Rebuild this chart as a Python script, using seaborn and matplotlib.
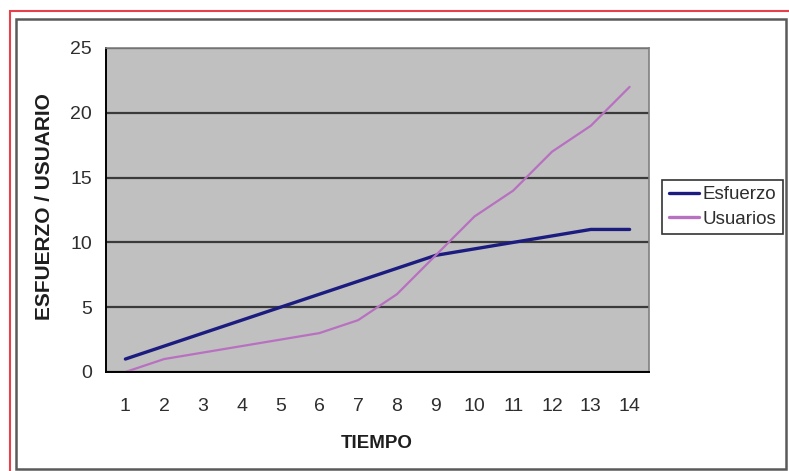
import pandas as pd
import seaborn as sns
import matplotlib.pyplot as plt
from matplotlib.patches import Rectangle

tiempo = list(range(1, 15))
esfuerzo = [1, 2, 3, 4, 5, 6, 7, 8, 9, 9.5, 10, 10.5, 11, 11]
usuarios = [0, 1, 1.5, 2, 2.5, 3, 4, 6, 9, 12, 14, 17, 19, 22]

df = pd.DataFrame({"TIEMPO": tiempo, "Esfuerzo": esfuerzo, "Usuarios": usuarios})
df = df.melt(id_vars="TIEMPO", var_name="serie", value_name="valor")

sns.set_style("white")
plt.rcParams['font.family'] = ['Liberation Sans', 'DejaVu Sans']

W, H = 789, 471
fig = plt.figure(figsize=(W / 100, H / 100), dpi=100)

# outer frames (red screenshot border + grey chart border)
fig.patches.append(Rectangle((10 / W, -0.1), 1.2, 1 - 11 / H + 0.1, transform=fig.transFigure,
                             fill=False, edgecolor="#e8404a", linewidth=1.5))
fig.patches.append(Rectangle((16 / W, 2 / H), 770 / W, 450 / H, transform=fig.transFigure,
                             fill=False, edgecolor="#5a5a5a", linewidth=1.8))

ax = fig.add_axes([106 / W, 1 - 372 / H, 543 / W, 324 / H])
ax.set_facecolor("#c0c0c0")

sns.lineplot(data=df, x="TIEMPO", y="valor", hue="serie", ax=ax,
             palette={"Esfuerzo": "#1c1c80", "Usuarios": "#b870c0"}, legend=False)
ax.lines[0].set_linewidth(2.4)
ax.lines[1].set_linewidth(1.6)

ax.set_xlim(0.5, 14.5)
ax.set_ylim(0, 25)
ax.set_yticks([0, 5, 10, 15, 20, 25])
ax.set_xticks(tiempo)
ax.set_xticks([i + 0.5 for i in range(0, 15)], minor=True)
ax.tick_params(axis="x", which="major", length=0, labelsize=14, pad=19, colors="#2e2e2e")
ax.tick_params(axis="x", which="minor", length=6, width=1.2, color="black", direction="out")
ax.tick_params(axis="y", which="major", length=6, width=1.2, color="black", direction="out",
               labelsize=14, labelcolor="#2e2e2e", pad=4)
ax.set_axisbelow(True)
ax.yaxis.grid(True, color="#3a3a3a", linewidth=1.6)
ax.xaxis.grid(False)

for s in ["top", "right"]:
    ax.spines[s].set_color("#808080")
    ax.spines[s].set_linewidth(1.2)
for s in ["left", "bottom"]:
    ax.spines[s].set_color("black")
    ax.spines[s].set_linewidth(1.4)

ax.set_xlabel("TIEMPO", fontsize=13.5, fontweight="bold", color="#1e1e1e", va="center")
ax.set_ylabel("ESFUERZO / USUARIO", fontsize=15, fontweight="bold", color="#1e1e1e", va="center")
ax.xaxis.set_label_coords(0.499, -0.222)
ax.yaxis.set_label_coords(-0.114, 0.511)

handles = [plt.Line2D([], [], color="#1c1c80", linewidth=2.4),
           plt.Line2D([], [], color="#b870c0", linewidth=2.4)]
leg = fig.legend(handles, ["Esfuerzo", "Usuarios"], loc="center left",
                 bbox_to_anchor=(662 / W, 1 - 207 / H), fontsize=13.5, frameon=True,
                 fancybox=False, edgecolor="black", handlelength=1.6, handletextpad=0.2,
                 borderpad=0.35, labelspacing=0.4, borderaxespad=0)
leg.get_frame().set_linewidth(1.2)
for t in leg.get_texts():
    t.set_color("#2e2e2e")

fig.savefig("out.png", dpi=100)
